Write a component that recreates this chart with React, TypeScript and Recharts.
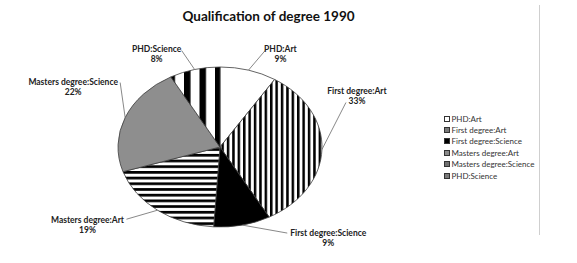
import { PieChart, Pie, Cell, Legend } from "recharts";

const categories = [
  "PHD:Art",
  "First degree:Art",
  "First degree:Science",
  "Masters degree:Art",
  "Masters degree:Science",
  "PHD:Science",
];
const shares = [9, 33, 9, 19, 22, 8];

const sliceFills = [
  "#ffffff",
  "url(#fineVertical)",
  "#000000",
  "url(#fineHorizontal)",
  "#8e8e8e",
  "url(#wideVertical)",
];
const swatchFills = ["#ffffff", "#7a7a7a", "#000000", "#8a8a8a", "#707070", "#7a7a7a"];

// label text centre and leader-line end, relative to the slice's outer edge point
const labelOffsets: [number, number][] = [
  [32, -21.5],
  [35, -58.5],
  [86, 7.5],
  [-70, 9.5],
  [-52, -35.5],
  [-38, -20.5],
];
const leaderEnds: [number, number][] = [
  [17, -20],
  [24, -47],
  [45, 8],
  [-31, 9],
  [-5, -35],
  [-13, -19],
];

const data = categories.map((name, i) => ({ name, value: shares[i] }));

const RAD = Math.PI / 180;
const CX = 220;
const CY = 147;
const RY = 80;
const SX = 102 / 80; // horizontal stretch, the pie is drawn as an ellipse

function EllipseSector(props: any) {
  const { cx, cy, outerRadius: r, startAngle, endAngle, fill } = props;
  const pt = (a: number) => [cx + Math.cos(-a * RAD) * r * SX, cy + Math.sin(-a * RAD) * r];
  const [x0, y0] = pt(startAngle);
  const [x1, y1] = pt(endAngle);
  const large = Math.abs(endAngle - startAngle) > 180 ? 1 : 0;
  const sweep = startAngle > endAngle ? 1 : 0;
  return (
    <path
      d={`M${cx},${cy} L${x0},${y0} A${r * SX},${r} 0 ${large} ${sweep} ${x1},${y1} Z`}
      fill={fill}
      stroke="#3c3c3c"
      strokeWidth={0.8}
    />
  );
}

function SliceLabel(props: any) {
  const { cx, cy, midAngle, outerRadius, name, value } = props;
  const i = props.index ?? categories.indexOf(name);
  const ex = cx + Math.cos(-midAngle * RAD) * outerRadius * SX;
  const ey = cy + Math.sin(-midAngle * RAD) * outerRadius;
  const [dx, dy] = labelOffsets[i];
  const [lx, ly] = leaderEnds[i];
  const textProps = {
    textAnchor: "middle" as const,
    dominantBaseline: "central" as const,
    fontFamily: "Lato",
    fontWeight: "bold",
    fontSize: 8.5,
    fill: "#222",
  };
  return (
    <g>
      <line x1={ex} y1={ey} x2={ex + lx} y2={ey + ly} stroke="#6a6a6a" strokeWidth={0.8} />
      <text x={ex + dx} y={ey + dy} {...textProps}>
        {categories[i]}
      </text>
      <text x={ex + dx} y={ey + dy + 10} {...textProps}>
        {`${value ?? shares[i]}%`}
      </text>
    </g>
  );
}

function LegendList() {
  return (
    <div style={{ fontFamily: "Lato", fontSize: 8, color: "#333" }}>
      {categories.map((name, i) => (
        <div key={name} style={{ display: "flex", alignItems: "center", height: 11.4 }}>
          <span
            style={{
              display: "inline-block",
              width: 4,
              height: 4,
              marginRight: 1.5,
              background: swatchFills[i],
              border: "0.6px solid #333",
            }}
          />
          {name}
        </div>
      ))}
    </div>
  );
}

export default function App() {
  return (
    <div style={{ position: "absolute", left: 0, top: 0, width: 577, height: 263, background: "#fff" }}>
      <svg width={0} height={0} style={{ position: "absolute" }}>
        <defs>
          <pattern id="fineVertical" patternUnits="userSpaceOnUse" width={5.4} height={10}>
            <rect width={5.4} height={10} fill="#fff" />
            <rect width={2.5} height={10} fill="#000" />
          </pattern>
          <pattern id="fineHorizontal" patternUnits="userSpaceOnUse" width={10} height={5.7}>
            <rect width={10} height={5.7} fill="#fff" />
            <rect width={10} height={2.7} fill="#000" />
          </pattern>
          <pattern id="wideVertical" patternUnits="userSpaceOnUse" x={215} width={15.5} height={10}>
            <rect width={15.5} height={10} fill="#fff" />
            <rect width={6.5} height={10} fill="#000" />
          </pattern>
        </defs>
      </svg>
      <div
        style={{
          position: "absolute",
          left: 0,
          width: 537,
          top: 7,
          textAlign: "center",
          fontFamily: "Lato",
          fontWeight: "bold",
          fontSize: 13.5,
          lineHeight: "18px",
          color: "#111",
        }}
      >
        Qualification of degree 1990
      </div>
      <div
        style={{
          position: "absolute",
          left: 539,
          top: 5,
          width: 1,
          height: 230,
          background: "#cfcfcf",
        }}
      />
      <PieChart width={577} height={263} margin={{ top: 0, right: 0, bottom: 0, left: 0 }}>
        <Pie
          data={data}
          dataKey="value"
          nameKey="name"
          cx={CX}
          cy={CY}
          outerRadius={RY}
          startAngle={90}
          endAngle={-270}
          shape={EllipseSector}
          inactiveShape={EllipseSector}
          activeShape={EllipseSector}
          label={SliceLabel}
          labelLine={false}
          isAnimationActive={false}
        >
          {data.map((d, i) => (
            <Cell key={d.name} fill={sliceFills[i]} />
          ))}
        </Pie>
        <Legend
          layout="vertical"
          align="right"
          verticalAlign="middle"
          content={LegendList}
          wrapperStyle={{ left: 444, top: 113, width: 100 }}
        />
      </PieChart>
    </div>
  );
}
